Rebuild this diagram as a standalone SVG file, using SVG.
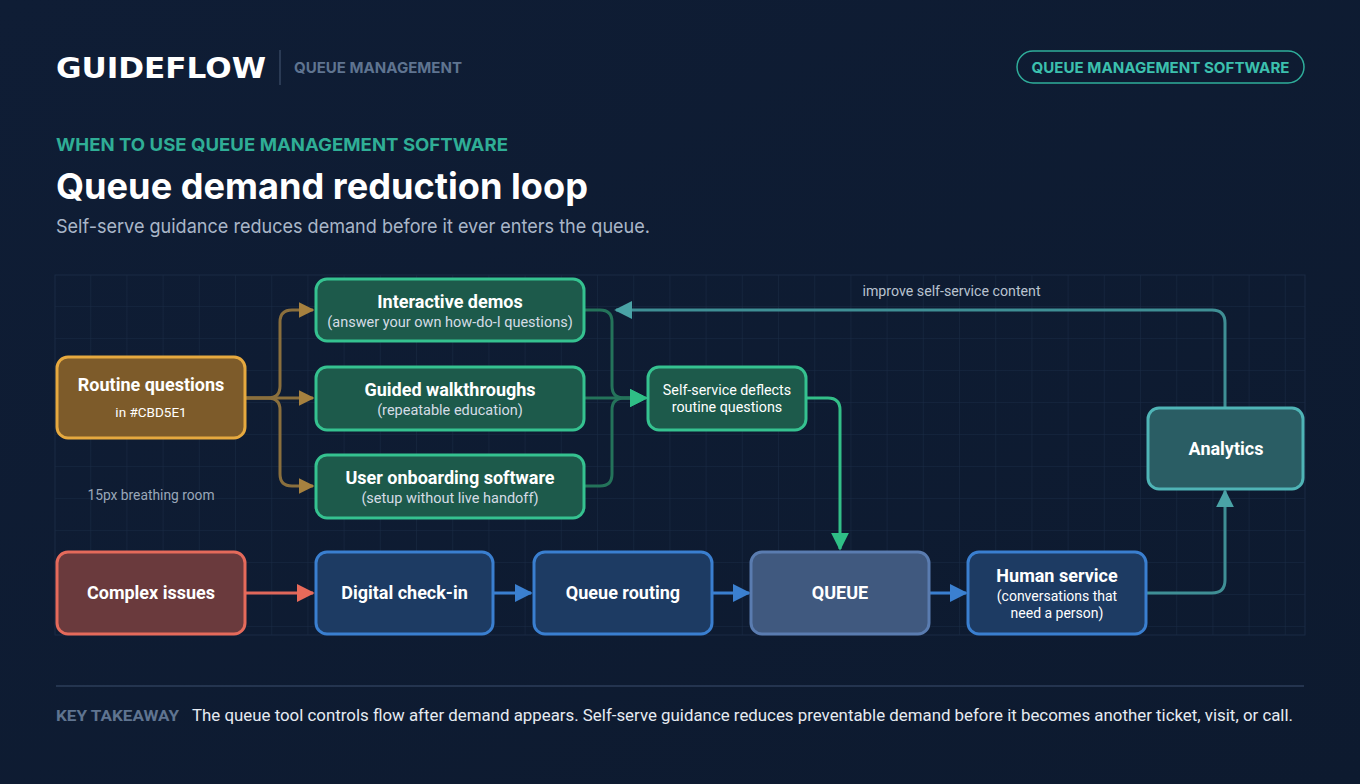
<svg xmlns="http://www.w3.org/2000/svg" width="1360" height="784" viewBox="0 0 1360 784">
<defs>
<linearGradient id="bg" x1="0" y1="0" x2="1" y2="1">
<stop offset="0" stop-color="#0f1d35"/>
<stop offset="1" stop-color="#0d1a2f"/>
</linearGradient>
<pattern id="grid" x="55" y="275" width="36.2" height="32" patternUnits="userSpaceOnUse">
<path d="M36.2 0V32M0 32H36.2" fill="none" stroke="#1a2b45" stroke-width="1"/>
</pattern>
<marker id="aGold" viewBox="0 0 10 10" refX="9" refY="5" markerWidth="16" markerHeight="16" markerUnits="userSpaceOnUse" orient="auto"><path d="M0,0L10,5L0,10Z" fill="#a6813f"/></marker>
<marker id="aGreen" viewBox="0 0 10 10" refX="9" refY="5" markerWidth="18" markerHeight="18" markerUnits="userSpaceOnUse" orient="auto"><path d="M0,0L10,5L0,10Z" fill="#2fbf86"/></marker>
<marker id="aRed" viewBox="0 0 10 10" refX="9" refY="5" markerWidth="18" markerHeight="18" markerUnits="userSpaceOnUse" orient="auto"><path d="M0,0L10,5L0,10Z" fill="#e86a5a"/></marker>
<marker id="aBlue" viewBox="0 0 10 10" refX="9" refY="5" markerWidth="18" markerHeight="18" markerUnits="userSpaceOnUse" orient="auto"><path d="M0,0L10,5L0,10Z" fill="#3b80d0"/></marker>
<marker id="aTeal" viewBox="0 0 10 10" refX="9" refY="5" markerWidth="18" markerHeight="18" markerUnits="userSpaceOnUse" orient="auto"><path d="M0,0L10,5L0,10Z" fill="#4aa3a6"/></marker>
</defs>
<style>
.hdr{font-family:Inter,"Liberation Sans",sans-serif}
.t{font-family:Roboto,"Liberation Sans",sans-serif;fill:#ffffff;text-anchor:middle}
.tb{font-weight:700;font-size:18px}
.ts{font-size:14.5px;fill:#d5dce6}
.node rect{stroke-width:3}
.gold{fill:#7d5b2a;stroke:#e6a93f}
.grn{fill:#1d5a4b;stroke:#35c290}
.red{fill:#6a3a3d;stroke:#e56a5b}
.blu{fill:#1d3b63;stroke:#3a7fd0}
.que{fill:#40597f;stroke:#5a7cb0}
.tea{fill:#2a5d64;stroke:#4fb4b6}
.c{fill:none;stroke-width:3}
</style>
<rect width="1360" height="784" fill="url(#bg)"/>
<rect x="55" y="275" width="1250" height="360" fill="url(#grid)"/>
<rect x="55" y="275" width="1250" height="360" fill="none" stroke="#1a2b45"/>

<g id="header">
<text x="56" y="78" font-family="DejaVu Sans,sans-serif" font-weight="700" font-size="29" fill="#ffffff" textLength="210" lengthAdjust="spacingAndGlyphs">GUIDEFLOW</text>
<line x1="280" y1="50" x2="280" y2="85" stroke="#34455f" stroke-width="1.5"/>
<text class="hdr" x="294" y="73" font-weight="700" font-size="15" fill="#5f7490" textLength="168" lengthAdjust="spacingAndGlyphs">QUEUE MANAGEMENT</text>
<rect x="1017" y="51" width="287" height="32" rx="16" fill="none" stroke="#2fae9b" stroke-width="1.5"/>
<text class="hdr" x="1160.5" y="73" text-anchor="middle" font-weight="700" font-size="15" fill="#3cc0ae" textLength="258" lengthAdjust="spacingAndGlyphs">QUEUE MANAGEMENT SOFTWARE</text>
<text class="hdr" x="56" y="151" font-weight="700" font-size="18" fill="#2fae96" textLength="452" lengthAdjust="spacingAndGlyphs">WHEN TO USE QUEUE MANAGEMENT SOFTWARE</text>
<text class="hdr" x="56" y="199" font-weight="700" font-size="36" fill="#ffffff" textLength="532" lengthAdjust="spacingAndGlyphs">Queue demand reduction loop</text>
<text class="hdr" x="56" y="233" font-size="19" fill="#a9b6c8" textLength="594" lengthAdjust="spacingAndGlyphs">Self-serve guidance reduces demand before it ever enters the queue.</text>
</g>

<g id="connectors">
<path class="c" d="M245,398H268Q280,398 280,386V322Q280,310 292,310H313" stroke="#8a6f3d" marker-end="url(#aGold)"/>
<path class="c" d="M245,398H313" stroke="#8a6f3d" marker-end="url(#aGold)"/>
<path class="c" d="M245,398H268Q280,398 280,410V474Q280,486 292,486H313" stroke="#8a6f3d" marker-end="url(#aGold)"/>
<path class="c" d="M584,310H600Q612,310 612,322V386Q612,398 624,398H646" stroke="#24735a" marker-end="url(#aGreen)"/>
<path class="c" d="M584,398H646" stroke="#24735a" marker-end="url(#aGreen)"/>
<path class="c" d="M584,486H600Q612,486 612,474V410Q612,398 624,398H646" stroke="#24735a" marker-end="url(#aGreen)"/>
<path class="c" d="M806,398H828Q840,398 840,410V549" stroke="#33bf88" marker-end="url(#aGreen)"/>
<path class="c" d="M245,593H313" stroke="#e0675a" marker-end="url(#aRed)"/>
<path class="c" d="M493,593H531" stroke="#3a7fd0" marker-end="url(#aBlue)"/>
<path class="c" d="M712,593H749" stroke="#3a7fd0" marker-end="url(#aBlue)"/>
<path class="c" d="M929,593H966" stroke="#3a7fd0" marker-end="url(#aBlue)"/>
<path class="c" d="M1146,593H1212Q1225,593 1225,580V491" stroke="#3f8f95" marker-end="url(#aTeal)"/>
<path class="c" d="M1225,408V323Q1225,310 1212,310H616" stroke="#3f8f95" marker-end="url(#aTeal)"/>
<text x="951.5" y="296" font-family="Roboto,'Liberation Sans',sans-serif" font-size="14.2" fill="#b9c3d0" text-anchor="middle">improve self-service content</text>
</g>

<g id="routine" class="node"><rect class="gold" x="57" y="357" width="188" height="81" rx="11"/>
<text class="t tb" x="151" y="391">Routine questions</text><text class="t" x="151" y="417" font-size="13.5" fill="#d5dce6">in #CBD5E1</text></g>
<g id="demos" class="node"><rect class="grn" x="316" y="279" width="268" height="62" rx="11"/>
<text class="t tb" x="450" y="308">Interactive demos</text><text class="t ts" x="450" y="327">(answer your own how-do-I questions)</text></g>
<g id="walkthroughs" class="node"><rect class="grn" x="316" y="367" width="268" height="63" rx="11"/>
<text class="t tb" x="450" y="396">Guided walkthroughs</text><text class="t ts" x="450" y="415">(repeatable education)</text></g>
<g id="onboarding" class="node"><rect class="grn" x="316" y="455" width="268" height="63" rx="11"/>
<text class="t tb" x="450" y="484">User onboarding software</text><text class="t ts" x="450" y="503">(setup without live handoff)</text></g>
<g id="deflect" class="node"><rect class="grn" x="648" y="367" width="158" height="63" rx="11"/>
<text class="t" x="727" y="395" font-size="14.3">Self-service deflects</text><text class="t" x="727" y="412" font-size="14.3">routine questions</text></g>
<g id="analytics" class="node"><rect class="tea" x="1148" y="408" width="155" height="81" rx="11"/>
<text class="t tb" x="1226" y="455">Analytics</text></g>
<g id="complex" class="node"><rect class="red" x="57" y="552" width="188" height="82" rx="11"/>
<text class="t tb" x="151" y="599">Complex issues</text></g>
<g id="checkin" class="node"><rect class="blu" x="316" y="552" width="177" height="82" rx="11"/>
<text class="t tb" x="404.5" y="599">Digital check-in</text></g>
<g id="routing" class="node"><rect class="blu" x="534" y="552" width="178" height="82" rx="11"/>
<text class="t tb" x="623" y="599">Queue routing</text></g>
<g id="queue" class="node"><rect class="que" x="751" y="552" width="178" height="82" rx="11"/>
<text class="t tb" x="840" y="599">QUEUE</text></g>
<g id="human" class="node"><rect class="blu" x="968" y="552" width="178" height="82" rx="11"/>
<text class="t tb" x="1057" y="582">Human service</text><text class="t" x="1057" y="601" font-size="14" fill="#d5dce6">(conversations that</text><text class="t" x="1057" y="618" font-size="14" fill="#d5dce6">need a person)</text></g>

<text x="151" y="500" font-family="Roboto,'Liberation Sans',sans-serif" font-size="13.8" fill="#9aa7b8" text-anchor="middle">15px breathing room</text>

<g id="footer">
<line x1="56" y1="686" x2="1304" y2="686" stroke="#2c3e5a" stroke-width="1.5"/>
<text x="56" y="721" font-family="Roboto,'Liberation Sans',sans-serif" font-weight="700" font-size="15" fill="#5f7490" textLength="123" lengthAdjust="spacingAndGlyphs">KEY TAKEAWAY</text>
<text x="192" y="721" font-family="Roboto,'Liberation Sans',sans-serif" font-size="16" fill="#e6ebf2" textLength="1101" lengthAdjust="spacingAndGlyphs">The queue tool controls flow after demand appears. Self-serve guidance reduces preventable demand before it becomes another ticket, visit, or call.</text>
</g>
</svg>
